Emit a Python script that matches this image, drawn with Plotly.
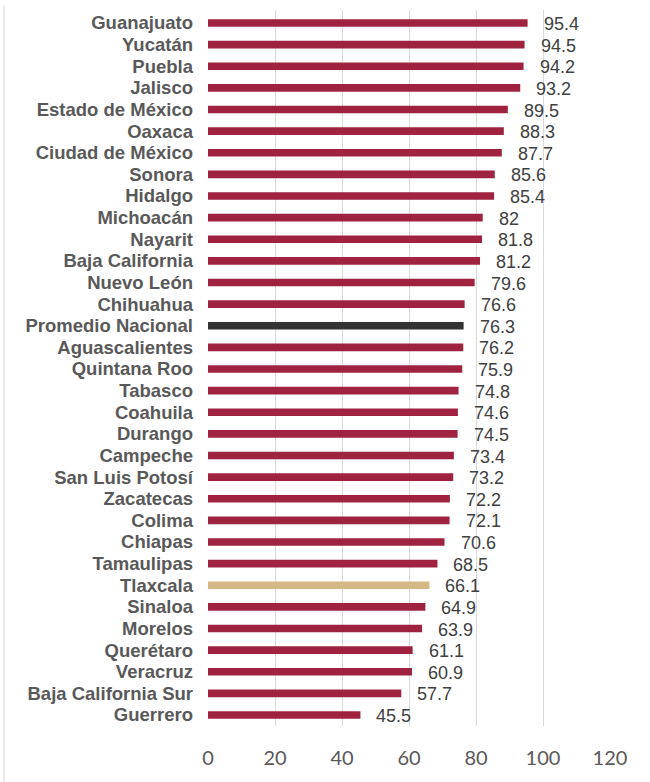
"""Horizontal bar chart: state values vs national average."""

import plotly.graph_objects as go

states = [
    "Guanajuato", "Yucatán", "Puebla", "Jalisco", "Estado de México", "Oaxaca",
    "Ciudad de México", "Sonora", "Hidalgo", "Michoacán", "Nayarit",
    "Baja California", "Nuevo León", "Chihuahua", "Promedio Nacional",
    "Aguascalientes", "Quintana Roo", "Tabasco", "Coahuila", "Durango",
    "Campeche", "San Luis Potosí", "Zacatecas", "Colima", "Chiapas",
    "Tamaulipas", "Tlaxcala", "Sinaloa", "Morelos", "Querétaro", "Veracruz",
    "Baja California Sur", "Guerrero",
]
values = [
    95.4, 94.5, 94.2, 93.2, 89.5, 88.3, 87.7, 85.6, 85.4, 82, 81.8, 81.2,
    79.6, 76.6, 76.3, 76.2, 75.9, 74.8, 74.6, 74.5, 73.4, 73.2, 72.2, 72.1,
    70.6, 68.5, 66.1, 64.9, 63.9, 61.1, 60.9, 57.7, 45.5,
]
x_ticks = [0, 20, 40, 60, 80, 100, 120]

GUINDA = "#9F2241"
NATIONAL = "#333333"
TLAXCALA = "#D4B886"

colors = []
for s in states:
    if s == "Promedio Nacional":
        colors.append(NATIONAL)
    elif s == "Tlaxcala":
        colors.append(TLAXCALA)
    else:
        colors.append(GUINDA)

fig = go.Figure(go.Bar(
    x=values,
    y=states,
    orientation="h",
    marker=dict(color=colors, line_width=0),
    hovertemplate="<b>%{y}</b><br>%{x}<extra></extra>",
))

# data labels sit a bit right of the bar end, like the Excel original
for s, v in zip(states, values):
    fig.add_annotation(
        x=v, y=s, text=f"{v:g}", showarrow=False,
        xanchor="left", xshift=14, yshift=-1,
        font=dict(family="Liberation Sans, Arial", size=18, color="#404040"),
    )

# thin frame line on the left edge of the chart area (x = 4px)
fig.add_shape(
    type="line", xref="paper", yref="paper",
    x0=-0.5075, x1=-0.5075, y0=-0.08, y1=1.007,
    line=dict(color="#D9D9D9", width=1),
)

fig.update_layout(
    template="plotly_white",
    width=650,
    height=782,
    margin=dict(l=208, r=40, t=10, b=56),
    paper_bgcolor="white",
    plot_bgcolor="white",
    bargap=0.645,
    showlegend=False,
    xaxis=dict(
        range=[0, 120],
        tickvals=x_ticks,
        showgrid=True,
        gridcolor="#D9D9D9",
        gridwidth=1,
        zeroline=False,
        showline=False,
        ticks="",
        ticklabelstandoff=18,
        tickfont=dict(family="Lato, Carlito, Calibri", size=20, color="#595959"),
    ),
    yaxis=dict(
        autorange="reversed",
        tickmode="array",
        tickvals=states,
        ticktext=states,
        showgrid=False,
        zeroline=False,
        showline=False,
        ticks="",
        ticklabelstandoff=14,
        tickfont=dict(family="Liberation Sans, Arial", size=18.5, color="#595959",
                      weight="bold"),
    ),
)

# drop the browser's default body margin so the figure sits at (0, 0)
fig.write_html(
    "out.html",
    config={"displayModeBar": False},
    post_script="document.body.style.margin='0';",
)
